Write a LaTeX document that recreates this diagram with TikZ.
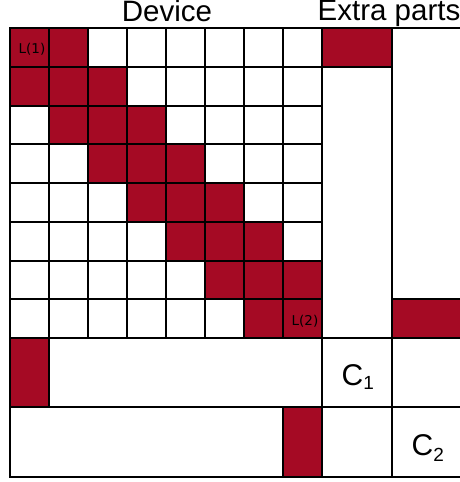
\documentclass[tikz,border=0pt]{standalone}
\usepackage{fontspec}
\setmainfont{Liberation Sans}
\newfontfamily\dejavu{DejaVu Sans}
\definecolor{cellred}{RGB}{165,10,36}
\tikzset{
  cell/.style={draw=black, line width=2pt, minimum width=39pt, minimum height=38.75pt,
    inner sep=0pt, outer sep=0pt, anchor=north west},
  redcell/.style={cell, fill=cellred},
  whitecell/.style={cell, fill=white},
  title/.style={font=\fontsize{29.5}{30}\selectfont, anchor=base, inner sep=0pt},
  smalllab/.style={font=\dejavu\fontsize{13.5}{14}\selectfont, inner sep=0pt},
  clab/.style={font=\fontsize{30}{30}\selectfont, anchor=base west, inner sep=0pt}
}
\begin{document}
\begin{tikzpicture}[x=1pt,y=-1pt]
\useasboundingbox (0,0) rectangle (460,482);
% main device grid
\foreach \r in {1,...,8}{
  \foreach \c in {1,...,8}{
    \pgfmathtruncatemacro{\d}{abs(\c-\r)}
    \ifnum\d<2 \def\fc{cellred}\else\def\fc{white}\fi
    \node[cell, fill=\fc] (g-\r-\c) at ({10+39*(\c-1)},{28+38.75*(\r-1)}) {};
  }
}
% extra parts columns
\node[redcell, minimum width=70pt] (e1) at (322,28) {};
\node[whitecell, minimum width=70pt, minimum height=271.25pt] (e2) at (322,66.75) {};
\node[whitecell, minimum width=72pt, minimum height=271.25pt] (e3) at (392,28) {};
\node[redcell, minimum width=72pt] (e4) at (392,299.25) {};
% bottom row A
\node[redcell, minimum height=69pt] (a1) at (10,338) {};
\node[whitecell, minimum width=273pt, minimum height=69pt] (a2) at (49,338) {};
\node[whitecell, minimum width=70pt, minimum height=69pt] (a3) at (322,338) {};
\node[whitecell, minimum width=72pt, minimum height=69pt] (a4) at (392,338) {};
% bottom row B
\node[whitecell, minimum width=273pt, minimum height=70pt] (b1) at (10,407) {};
\node[redcell, minimum height=70pt] (b2) at (283,407) {};
\node[whitecell, minimum width=70pt, minimum height=70pt] (b3) at (322,407) {};
\node[whitecell, minimum width=72pt, minimum height=70pt] (b4) at (392,407) {};
% titles
\node[title] (dev) at (167,21.5) {Device};
\node[title] (extra) at (389,20.5) {Extra parts};
% small labels
\node[smalllab] (l1) at (32,49) {L(1)};
\node[smalllab] (l2) at (305,321) {L(2)};
% C labels
\node[clab] (c1) at (341.5,385) {C\raisebox{-4pt}{\fontsize{19}{19}\selectfont 1}};
\node[clab] (c2) at (411.5,455) {C\raisebox{-6pt}{\fontsize{19}{19}\selectfont 2}};
\end{tikzpicture}
\end{document}
